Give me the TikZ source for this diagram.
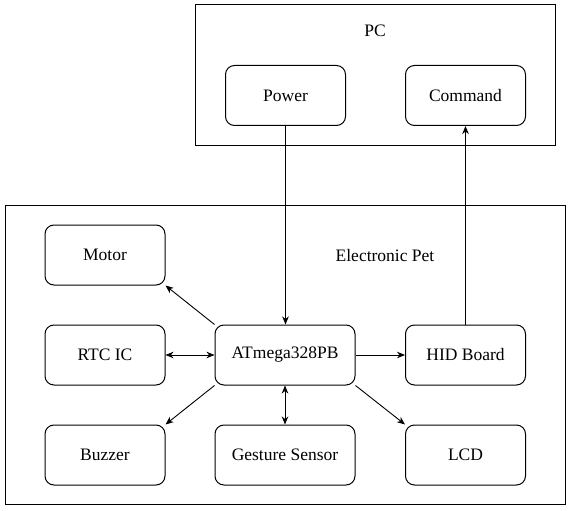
\documentclass[tikz,border=0pt]{standalone}
\usepackage{fontspec}
\setmainfont{Liberation Serif}
\usetikzlibrary{arrows.meta}

\tikzset{
  blk/.style={draw, rounded corners=9pt, line width=1pt, minimum width=120pt, minimum height=60pt, font=\fontsize{17.5}{20}\selectfont},
  wide/.style={blk, minimum width=140pt},
  arr/.style={line width=0.9pt, -{Stealth[length=8pt,width=6.5pt,inset=2.5pt]}},
  darr/.style={line width=0.9pt, {Stealth[length=8pt,width=6.5pt,inset=2.5pt]}-{Stealth[length=8pt,width=6.5pt,inset=2.5pt]}}
}

\begin{document}
\begin{tikzpicture}[x=1pt,y=-1pt]

\useasboundingbox (0,0) rectangle (571,511);

% outer frames
\draw[line width=1pt] (195,5) rectangle (555,145);
\draw[line width=1pt] (5,205) rectangle (565,504);
\node[font=\fontsize{17.5}{20}\selectfont] (pclabel) at (375,31) {PC};
\node[font=\fontsize{17.5}{20}\selectfont] (petlabel) at (385,256) {Electronic Pet};

% blocks
\node[blk] (power) at (285.5,95.5) {Power};
\node[blk] (command) at (465.5,95.5) {Command};

\node[blk] (motor) at (105,255) {Motor};
\node[blk] (rtc) at (105,355) {RTC IC};
\node[blk] (buzzer) at (105,455) {Buzzer};
\node[wide] (atmega) at (285,355) {ATmega328PB};
\node[wide] (gesture) at (285,455) {Gesture Sensor};
\node[blk] (hid) at (465.5,355) {HID Board};
\node[blk] (lcd) at (465.5,455) {LCD};

% links
\draw[arr] (power.south) -- (atmega.north -| power.south);
\draw[arr] (hid.north) -- (command.south);
\draw[arr] (atmega.north west) -- (motor.south east);
\draw[darr] (rtc) -- (atmega);
\draw[arr] (atmega) -- (hid);
\draw[arr] (atmega.south west) -- (buzzer.north east);
\draw[darr] (atmega) -- (gesture);
\draw[arr] (atmega.south east) -- (lcd.north west);

\end{tikzpicture}
\end{document}
